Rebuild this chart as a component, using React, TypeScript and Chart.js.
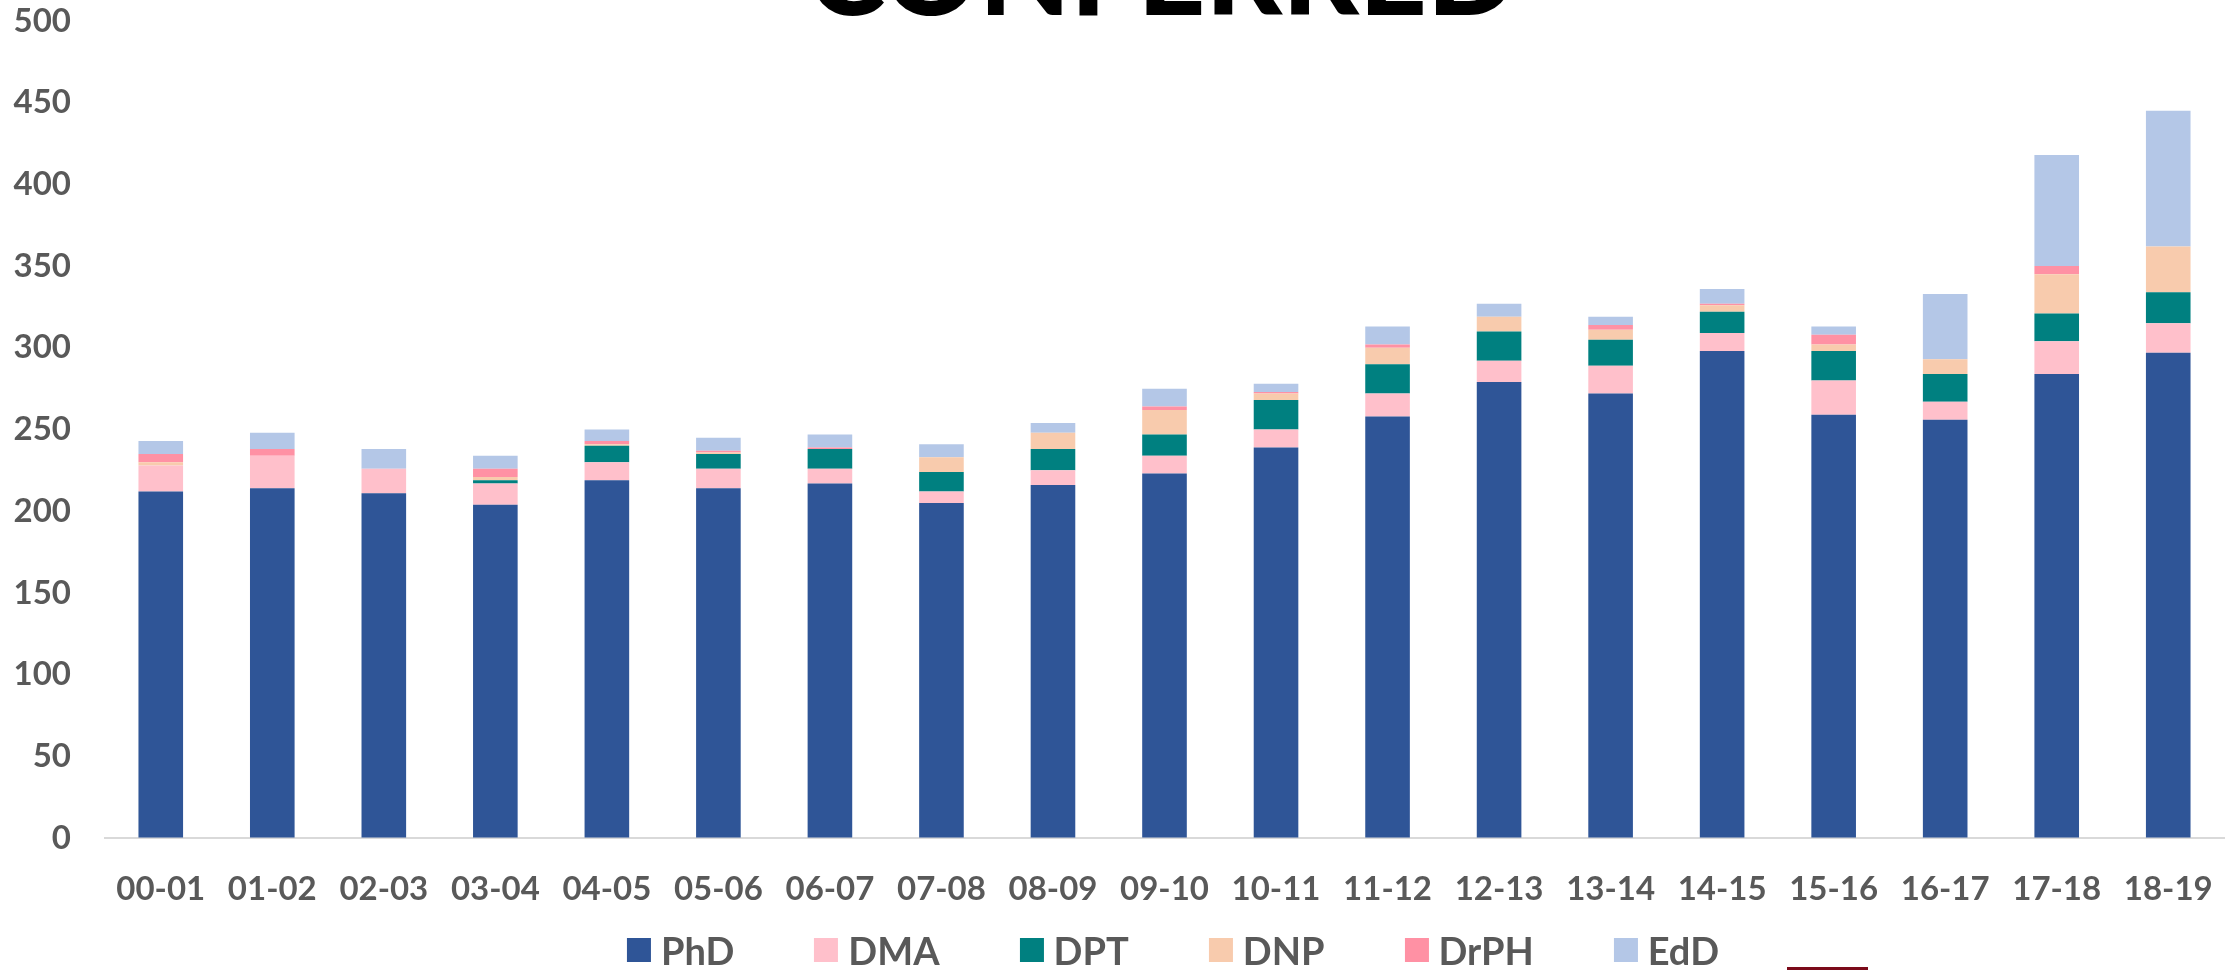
import React, { useEffect, useRef } from 'react';
import { Chart, registerables } from 'chart.js';

Chart.register(...registerables);

const TITLE = 'CONFERRED';

const categories = ['00-01', '01-02', '02-03', '03-04', '04-05', '05-06', '06-07', '07-08', '08-09', '09-10', '10-11', '11-12', '12-13', '13-14', '14-15', '15-16', '16-17', '17-18', '18-19'];

const seriesNames = ['PhD', 'DMA', 'DPT', 'DNP', 'DrPH', 'EdD'];
const seriesColors = ['#2F5597', '#FFC0CB', '#008080', '#F8CBAD', '#FF91A4', '#B4C7E7'];

const phd = [212, 214, 211, 204, 219, 214, 217, 205, 216, 223, 239, 258, 279, 272, 298, 259, 256, 284, 297];
const dma = [16, 20, 15, 13, 11, 12, 9, 7, 9, 11, 11, 14, 13, 17, 11, 21, 11, 20, 18];
const dpt = [0, 0, 0, 2, 10, 9, 12, 12, 13, 13, 18, 18, 18, 16, 13, 18, 17, 17, 19];
const dnp = [2, 0, 0, 2, 1, 1, 0, 9, 10, 15, 4, 10, 9, 6, 4, 4, 9, 24, 28];
const drph = [5, 4, 0, 5, 2, 1, 1, 0, 0, 2, 1, 2, 0, 3, 1, 6, 0, 5, 0];
const edd = [8, 10, 12, 8, 7, 8, 8, 8, 6, 11, 5, 11, 8, 5, 9, 5, 40, 68, 83];

const seriesValues = [phd, dma, dpt, dnp, drph, edd];

const yMin = 0;
const yMax = 500;
const yStep = 50;

const FONT = 'Lato';
const TEXT_COLOR = '#595959';

export default function App() {
  const ref = useRef<HTMLCanvasElement | null>(null);

  useEffect(() => {
    if (!ref.current) return;
    const titlePlugin = {
      id: 'clippedTitle',
      afterDraw(chart: any) {
        const ctx = chart.ctx as CanvasRenderingContext2D;
        ctx.save();
        ctx.font = `900 100px ${FONT}`;
        const w = ctx.measureText(TITLE).width;
        const size = (100 * 710) / w;
        ctx.font = `900 ${size}px ${FONT}`;
        ctx.fillStyle = '#000000';
        ctx.textAlign = 'center';
        ctx.textBaseline = 'alphabetic';
        ctx.fillText(TITLE, 1162, 15);
        ctx.restore();
      },
    };

    const tickFont = { family: FONT, weight: 'bold' as const, size: 33 };

    const chart = new Chart(ref.current, {
      type: 'bar',
      data: {
        labels: categories,
        datasets: seriesNames.map((name, i) => ({
          label: name,
          data: seriesValues[i],
          backgroundColor: seriesColors[i],
          borderWidth: 0,
          categoryPercentage: 1,
          barPercentage: 0.4,
        })),
      },
      options: {
        animation: false,
        responsive: false,
        devicePixelRatio: 1,
        layout: { padding: { top: 21, left: 0, right: 12, bottom: 52 } },
        plugins: {
          legend: { display: false },
          title: { display: false },
          tooltip: { enabled: false },
        },
        scales: {
          x: {
            stacked: true,
            grid: { display: true, drawOnChartArea: false, drawTicks: true, tickLength: 32, color: 'rgba(0,0,0,0)' },
            border: { display: true, color: '#D9D9D9', width: 2 },
            ticks: { font: tickFont, color: TEXT_COLOR, padding: 0, maxRotation: 0, autoSkip: false },
            afterFit: (s: any) => {
              s.height = 80;
            },
          },
          y: {
            stacked: true,
            min: yMin,
            max: yMax,
            ticks: { stepSize: yStep, font: tickFont, color: TEXT_COLOR, padding: 0 },
            grid: { display: true, drawOnChartArea: false, drawTicks: true, tickLength: 34, color: 'rgba(0,0,0,0)' },
            border: { display: false },
            afterFit: (s: any) => {
              s.width = 105;
            },
          },
        },
      },
      plugins: [titlePlugin],
    });

    document.fonts?.ready?.then(() => {
      try {
        chart.update();
      } catch (e) {}
    });

    return () => chart.destroy();
  }, []);

  return (
    <div style={{ position: 'absolute', left: 0, top: 0, width: 2236, height: 970, overflow: 'hidden', background: '#fff' }}>
      <canvas ref={ref} width={2236} height={970} style={{ position: 'absolute', left: 0, top: 0, width: 2236, height: 970 }} />
      <div
        style={{
          position: 'absolute',
          left: 1173,
          top: 930,
          height: 40,
          transform: 'translateX(-50%)',
          display: 'flex',
          alignItems: 'center',
          gap: 80,
          whiteSpace: 'nowrap',
          fontFamily: FONT,
          fontWeight: 700,
          fontSize: 38,
          lineHeight: '40px',
          color: TEXT_COLOR,
        }}
      >
        {seriesNames.map((n, i) => (
          <div key={n} style={{ display: 'flex', alignItems: 'center' }}>
            <span style={{ display: 'inline-block', width: 24, height: 24, background: seriesColors[i], marginRight: 10 }} />
            <span>{n}</span>
          </div>
        ))}
      </div>
      <div style={{ position: 'absolute', left: 1787, top: 967, width: 81, height: 3, background: '#7B0A1A' }} />
    </div>
  );
}
